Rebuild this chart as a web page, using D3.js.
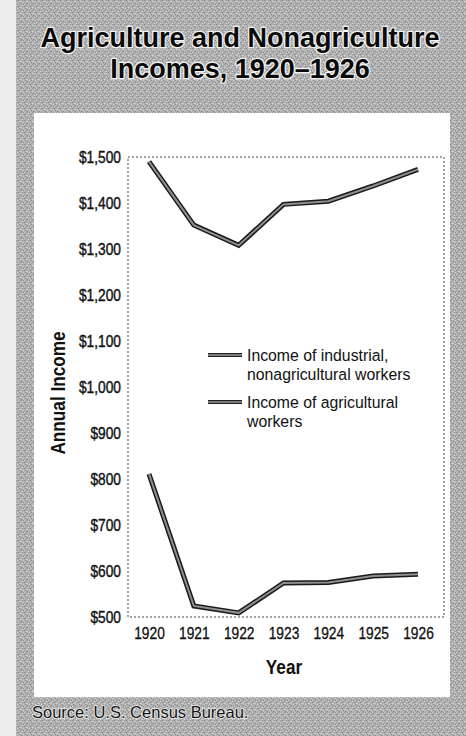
<!DOCTYPE html>
<html><head><meta charset="utf-8">
<script src="https://cdn.jsdelivr.net/npm/d3@7"></script>
<style>
html,body{margin:0;padding:0;background:#fff;}
svg{display:block;}
</style></head>
<body>
<script>
const years = [1920, 1921, 1922, 1923, 1924, 1925, 1926];
const industrial = [1490, 1352, 1308, 1397, 1404, 1437, 1473];
const agricultural = [811, 524, 509, 574, 575, 589, 593];
const yTicks = [500, 600, 700, 800, 900, 1000, 1100, 1200, 1300, 1400, 1500];
const seriesNames = ["Income of industrial,|nonagricultural workers", "Income of agricultural|workers"];
const titleLines = ["Agriculture and Nonagriculture", "Incomes, 1920\u20131926"];

const W = 466, H = 736;
const sans = "'Liberation Sans',Arial,Helvetica,sans-serif";
const svg = d3.select("body").append("svg").attr("width", W).attr("height", H);

// halftone-like gray texture
const defs = svg.append("defs");
const pat = defs.append("pattern").attr("id","tex").attr("width",6).attr("height",6).attr("patternUnits","userSpaceOnUse");
pat.append("rect").attr("width",6).attr("height",6).attr("fill","#b2b2b2");
[[0,0,"#7e7e7e"],[2,1,"#d6d6d6"],[4,0,"#9c9c9c"],[1,2,"#8f8f8f"],[5,2,"#cacaca"],[3,3,"#858585"],
 [0,4,"#d0d0d0"],[2,4,"#969696"],[4,5,"#dadada"],[1,5,"#a2a2a2"],[5,4,"#8a8a8a"],[3,1,"#c2c2c2"]].forEach(([x,y,c])=>
  pat.append("rect").attr("x",x).attr("y",y).attr("width",1).attr("height",1).attr("fill",c));

svg.append("rect").attr("x",0).attr("y",0).attr("width",W).attr("height",H).attr("fill","#ededed");
svg.append("rect").attr("x",16).attr("y",0).attr("width",W-16).attr("height",H).attr("fill","url(#tex)");
svg.append("rect").attr("x",34).attr("y",113).attr("width",450-34).attr("height",697-113).attr("fill","#fff");

// title
svg.selectAll("text.title").data(titleLines).join("text")
  .attr("class","title")
  .attr("x",240).attr("y",(d,i)=>47+i*31)
  .attr("text-anchor","middle")
  .attr("font-family",sans)
  .attr("font-weight","bold").attr("font-size",27)
  .attr("fill","#0a0a0a").attr("stroke","#f4f4f4").attr("stroke-width",2.4)
  .attr("paint-order","stroke").attr("stroke-linejoin","round")
  .text(d=>d);

// scales
const x = d3.scaleLinear().domain([1920,1926]).range([149,418]);
const y = d3.scaleLinear().domain([500,1500]).range([617,157]);

// plot frame (dotted)
svg.append("rect").attr("x",128).attr("y",157).attr("width",444-128).attr("height",617-157)
  .attr("fill","none").attr("stroke","#444").attr("stroke-width",1).attr("stroke-dasharray","2,2");

// y axis labels
const yAxis = d3.axisLeft(y).tickValues(yTicks).tickSize(0).tickPadding(0)
  .tickFormat(d=>"$"+d3.format(",")(d));
const gy = svg.append("g").attr("transform","translate(121,0)").call(yAxis);
gy.select(".domain").remove();
gy.selectAll("text").attr("x",0).attr("dy","0.36em")
  .attr("transform","scale(0.86,1)")
  .attr("font-family",sans).attr("font-size",16).attr("fill","#111")
  .attr("stroke","#111").attr("stroke-width",0.4);

// x axis labels
const xAxis = d3.axisBottom(x).tickValues(years).tickSize(0).tickPadding(11).tickFormat(d3.format("d"));
const gx = svg.append("g").attr("transform","translate(0,617)").call(xAxis);
gx.select(".domain").remove();
gx.selectAll("text").attr("transform","scale(0.86,1)")
  .attr("font-family",sans).attr("font-size",16).attr("fill","#111")
  .attr("stroke","#111").attr("stroke-width",0.3);

// axis titles
svg.append("text").attr("transform","translate(65,393) rotate(-90) scale(0.86,1)").attr("text-anchor","middle")
  .attr("font-family",sans).attr("font-weight","bold").attr("font-size",20).attr("fill","#111").text("Annual Income");
svg.append("text").attr("transform","translate(284,674) scale(0.86,1)").attr("text-anchor","middle")
  .attr("font-family",sans).attr("font-weight","bold").attr("font-size",20).attr("fill","#111").text("Year");

// lines
const line = d3.line().x((d,i)=>x(years[i])).y(d=>y(d));
[industrial, agricultural].forEach(s=>{
  svg.append("path").attr("d",line(s)).attr("fill","none").attr("stroke","#1a1a1a").attr("stroke-width",5).attr("stroke-linejoin","miter");
  svg.append("path").attr("d",line(s)).attr("fill","none").attr("stroke","#8e8e8e").attr("stroke-width",2).attr("stroke-linejoin","miter");
});

// legend
const legY = [355, 402];
seriesNames.forEach((name,i)=>{
  const g = svg.append("g");
  g.append("line").attr("x1",208).attr("x2",242).attr("y1",legY[i]).attr("y2",legY[i]).attr("stroke","#222").attr("stroke-width",4);
  g.append("line").attr("x1",208).attr("x2",242).attr("y1",legY[i]).attr("y2",legY[i]).attr("stroke","#9a9a9a").attr("stroke-width",1.5);
  name.split("|").forEach((s,j)=>{
    g.append("text").attr("transform",`translate(247,${legY[i]+6+j*19}) scale(0.93,1)`)
      .attr("font-family",sans).attr("font-size",17).attr("fill","#111").text(s);
  });
});

// source
svg.append("text").attr("x",32).attr("y",718)
  .attr("font-family",sans).attr("font-size",16.5)
  .attr("fill","#111").attr("stroke","#f0f0f0").attr("stroke-width",1.6).attr("paint-order","stroke")
  .text("Source: U.S. Census Bureau.");
</script>
</body></html>
